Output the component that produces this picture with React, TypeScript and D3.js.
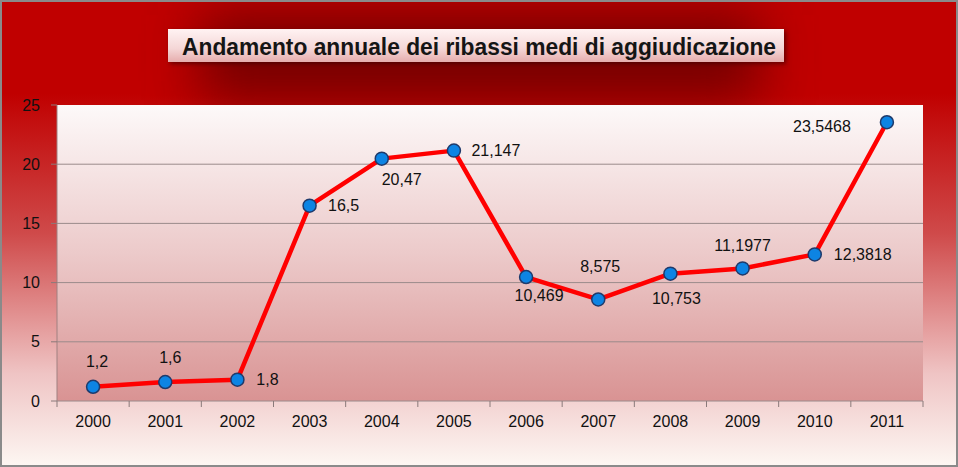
import React from "react";
import * as d3 from "d3";

const years = ["2000","2001","2002","2003","2004","2005","2006","2007","2008","2009","2010","2011"];
const values = [1.2, 1.6, 1.8, 16.5, 20.47, 21.147, 10.469, 8.575, 10.753, 11.1977, 12.3818, 23.5468];
const valueLabels = ["1,2","1,6","1,8","16,5","20,47","21,147","10,469","8,575","10,753","11,1977","12,3818","23,5468"];
const yTicks = [0, 5, 10, 15, 20, 25];
const title = "Andamento annuale dei ribassi medi di aggiudicazione";

// label placement offsets (layout only)
const labelOffsets: [number, number][] = [
  [4, -25], [5, -25], [30, 0], [34, 0], [20, 21], [42, 0],
  [13, 18], [2, -33], [6, 25], [0, -23], [48, 0], [-65, 4],
];

const W = 958, H = 467;
const plot = { left: 57, right: 923, top: 105, bottom: 401 };

export default function App() {
  const x = d3.scaleBand<string>().domain(years).range([plot.left, plot.right]).padding(0);
  const y = d3.scaleLinear().domain([0, 25]).range([plot.bottom, plot.top]);
  const cx = (d: string) => (x(d) as number) + x.bandwidth() / 2;
  const line = d3.line<number>().x((_, i) => cx(years[i])).y((v) => y(v));
  const font = "'Liberation Sans', Arial, sans-serif";
  const boundaries = d3.range(years.length + 1).map((i) => plot.left + i * x.bandwidth());

  return (
    <svg width={W} height={H} style={{ position: "absolute", left: 0, top: 0 }} fontFamily={font}>
      <defs>
        <linearGradient id="bg" x1="0" y1="0" x2="0" y2="1">
          <stop offset="0" stopColor="#c00000" />
          <stop offset="0.2" stopColor="#c00000" />
          <stop offset="0.5" stopColor="#cf4a4a" />
          <stop offset="0.8" stopColor="#efc4c4" />
          <stop offset="1" stopColor="#fdf7f3" />
        </linearGradient>
        <linearGradient id="plotbg" x1="0" y1="0" x2="0" y2="1">
          <stop offset="0" stopColor="#fdf9f9" />
          <stop offset="0.5" stopColor="#eccaca" />
          <stop offset="1" stopColor="#d99393" />
        </linearGradient>
        <linearGradient id="titlebg" x1="0" y1="0" x2="0" y2="1">
          <stop offset="0" stopColor="#fff3f3" />
          <stop offset="0.6" stopColor="#f4d6d6" />
          <stop offset="1" stopColor="#e6adad" />
        </linearGradient>
        <filter id="blur" x="-50%" y="-100%" width="200%" height="300%">
          <feGaussianBlur stdDeviation="28" />
        </filter>
        <filter id="shadow" x="-10%" y="-50%" width="120%" height="200%">
          <feGaussianBlur stdDeviation="2" />
        </filter>
      </defs>
      <rect x={0} y={0} width={W} height={H} fill="url(#bg)" />
      <rect x={200} y={15} width={560} height={85} fill="#5a0000" opacity={0.75} filter="url(#blur)" />
      <rect x={1} y={1} width={W - 2} height={H - 2} fill="none" stroke="#8a8a8a" strokeWidth={2} />

      {/* title */}
      <rect x={170} y={31} width={616} height={33} fill="#3a0000" opacity={0.6} filter="url(#shadow)" />
      <rect x={168} y={29} width={616} height={33} fill="url(#titlebg)" />
      <text x={182} y={55} fontSize={23.5} fontWeight="bold" fill="#151515" textLength={594} lengthAdjust="spacingAndGlyphs"
        fontFamily="'Liberation Sans Narrow', 'Liberation Sans', Arial, sans-serif">{title}</text>

      {/* plot area */}
      <rect x={plot.left} y={plot.top} width={plot.right - plot.left} height={plot.bottom - plot.top} fill="url(#plotbg)" />
      {yTicks.filter((t) => t > 0 && t < 25).map((t) => (
        <line key={t} x1={plot.left} x2={plot.right} y1={y(t)} y2={y(t)} stroke="#9a8a8a" strokeWidth={1} />
      ))}
      <line x1={plot.left} x2={plot.left} y1={plot.top} y2={plot.bottom} stroke="#a08080" strokeWidth={1} />
      <line x1={plot.left} x2={plot.right} y1={plot.bottom} y2={plot.bottom} stroke="#9a8a8a" strokeWidth={1} />
      {yTicks.map((t) => (
        <g key={t}>
          <line x1={51} x2={plot.left} y1={y(t)} y2={y(t)} stroke="#8a7a7a" />
          <text x={40} y={y(t)} textAnchor="end" dominantBaseline="central" fontSize={16} fill="#111">{t}</text>
        </g>
      ))}
      {boundaries.map((b, i) => (
        <line key={i} x1={b} x2={b} y1={plot.bottom} y2={plot.bottom + 6} stroke="#8a7a7a" />
      ))}
      {years.map((yr) => (
        <text key={yr} x={cx(yr)} y={421} textAnchor="middle" dominantBaseline="central" fontSize={16} fill="#111">{yr}</text>
      ))}

      <path d={line(values) || ""} fill="none" stroke="#ff0000" strokeWidth={4.5} strokeLinejoin="round" />
      {values.map((v, i) => (
        <circle key={i} cx={cx(years[i])} cy={y(v)} r={6.5} fill="#0d84e3" stroke="#1f3a6b" strokeWidth={1.5} />
      ))}
      {values.map((v, i) => (
        <text key={i} x={cx(years[i]) + labelOffsets[i][0]} y={y(v) + labelOffsets[i][1]} textAnchor="middle"
          dominantBaseline="central" fontSize={16} fill="#111">{valueLabels[i]}</text>
      ))}
    </svg>
  );
}
